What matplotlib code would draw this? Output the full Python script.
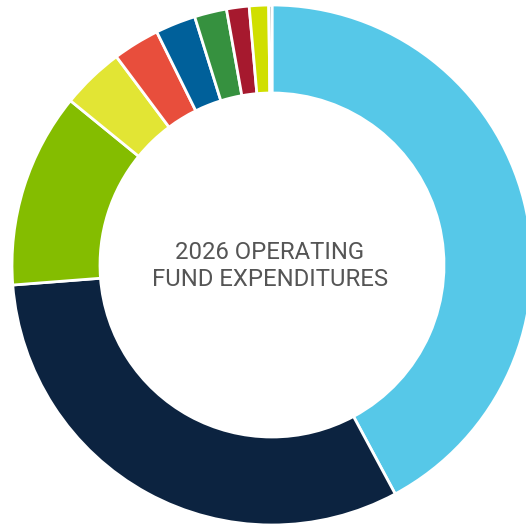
import matplotlib.pyplot as plt

# share of 2026 operating fund expenditures (percent, read from the ring)
categories = ["Cat 1", "Cat 2", "Cat 3", "Cat 4", "Cat 5",
              "Cat 6", "Cat 7", "Cat 8", "Cat 9", "Cat 10"]
shares = [42.1, 31.6, 12.1, 3.9, 2.9, 2.5, 2.0, 1.4, 1.2, 0.2]
colors = ["#56C8E8", "#0C2340", "#84BD00", "#E2E534", "#E84E3C",
          "#00609A", "#36913F", "#A6192E", "#D0DF00", "#8C9A9A"]
title_lines = ["2026 OPERATING", "FUND EXPENDITURES"]

fig = plt.figure(figsize=(5.26, 5.27), dpi=100)
ax = fig.add_axes([0, 0, 1, 1])

outer = 260
ring = 88
ax.pie(shares, colors=colors, radius=outer, startangle=90, counterclock=False,
       wedgeprops=dict(width=ring, edgecolor="white", linewidth=2))

# pixel-like data units, centre of the ring at (272, 265) from top-left
ax.set_xlim(-272, 526 - 272)
ax.set_ylim(-(527 - 265), 265)
ax.set_aspect("equal")
ax.axis("off")

ax.text(-2, -1, "\n".join(title_lines), ha="center", va="center",
        fontsize=17.2, family="Roboto", color="#555555", linespacing=1.2)

fig.savefig("out.png", dpi=100)
